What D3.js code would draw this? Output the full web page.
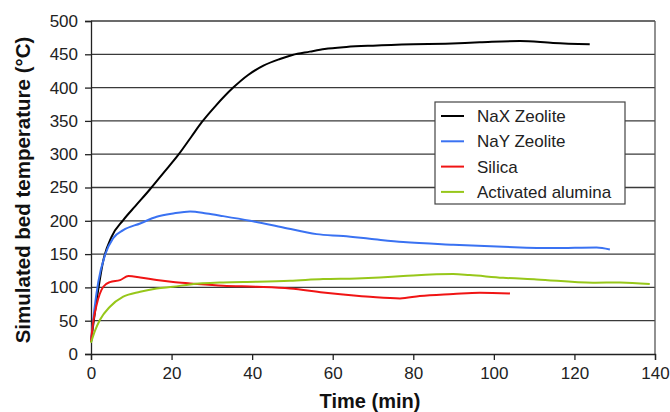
<!DOCTYPE html>
<html><head><meta charset="utf-8">
<script src="https://cdn.jsdelivr.net/npm/d3@7/dist/d3.min.js"></script>
<style>body{margin:0;background:#fff}svg{display:block}</style>
</head><body>
<svg id="c" width="670" height="412"></svg>
<script>
const seriesNames = ["NaX Zeolite", "NaY Zeolite", "Silica", "Activated alumina"];
const seriesColors = ["#000000", "#3a72f2", "#f01414", "#97c71a"];
const naxTime = [0, 1.5, 3.0, 5.1, 8, 11, 14.6, 18, 21.8, 25, 27.5, 31, 35.3, 39, 42.8, 46.9, 50, 54.3, 58, 63.4, 70, 80, 88, 96.5, 106.5, 114.7, 123.8];
const naxVal  = [18, 85, 139, 176, 201, 222, 247, 272, 300, 327, 348, 373, 400, 419, 433, 443, 449, 454, 458, 461, 463, 465, 466, 468, 470, 467, 465];
const nayTime = [0, 0.8, 1.8, 3.5, 5.5, 8, 12.2, 16.3, 20.4, 24.6, 28.7, 32.8, 39.5, 47.7, 56, 62.6, 69.2, 77.5, 89.9, 102.3, 114.7, 125.5, 128.8];
const nayVal  = [19, 65, 108, 149, 174, 186, 196, 206, 211, 214, 211, 207, 200, 190, 180, 177, 173, 168, 164, 161, 159, 160, 157];
const silTime = [0, 0.6, 1.4, 3.05, 4.7, 7.2, 9.3, 12.2, 16.3, 20.4, 24.6, 32.8, 41.1, 49.4, 57.6, 65.9, 70, 76.7, 81.6, 89.9, 96.5, 104];
const silVal  = [19, 50, 74, 101, 108, 111, 117, 115, 111, 108, 106, 102.5, 101, 98.5, 92.5, 87.5, 85.5, 83.5, 87, 90, 92, 91];
const aluTime = [0, 1, 2.2, 4.7, 8, 12.2, 16.3, 20.4, 24.6, 32.8, 41.1, 49.4, 57.6, 65.9, 71.7, 77.5, 89.9, 94, 102.3, 110.6, 124.6, 131.3, 138.7];
const aluVal  = [17, 35, 51, 71, 86, 93.5, 98.5, 101, 104.5, 107.5, 108.5, 110, 112.5, 113.5, 115, 117, 120, 118.5, 114.5, 112, 107, 107.5, 105];
const xTicks = [0, 20, 40, 60, 80, 100, 120, 140];
const yTicks = [0, 50, 100, 150, 200, 250, 300, 350, 400, 450, 500];
const xTitle = "Time (min)";
const yTitle = "Simulated bed temperature (°C)";

const seriesData = [
  naxTime.map((t,i)=>[t,naxVal[i]]),
  nayTime.map((t,i)=>[t,nayVal[i]]),
  silTime.map((t,i)=>[t,silVal[i]]),
  aluTime.map((t,i)=>[t,aluVal[i]])
];

const svg = d3.select("#c");
const L = 91, R = 655, T = 21, B = 354;
const x = d3.scaleLinear().domain([0,140]).range([L,R]);
const y = d3.scaleLinear().domain([0,500]).range([B,T]);
const font = "'Liberation Sans', Arial, sans-serif";

// gridlines
svg.append("g").selectAll("line").data(yTicks.filter(v=>v>0)).join("line")
  .attr("x1",L).attr("x2",R).attr("y1",d=>y(d)).attr("y2",d=>y(d))
  .attr("stroke","#3a3a3a").attr("stroke-width",1.3);
// right border
svg.append("line").attr("x1",R).attr("x2",R).attr("y1",T).attr("y2",B)
  .attr("stroke","#555").attr("stroke-width",1.3);

// axes
const yAxis = d3.axisLeft(y).tickValues(yTicks).tickSize(6).tickPadding(7);
const gy = svg.append("g").attr("transform",`translate(${L},0)`).call(yAxis);
const xAxis = d3.axisBottom(x).tickValues(xTicks).tickSize(6).tickPadding(7);
const gx = svg.append("g").attr("transform",`translate(0,${B})`).call(xAxis);
[gx,gy].forEach(g=>{
  g.select(".domain").attr("stroke","#222").attr("stroke-width",1.3);
  g.selectAll(".tick line").attr("stroke","#222").attr("stroke-width",1.3);
  g.selectAll(".tick text").attr("font-family",font).attr("font-size",17).attr("fill","#222");
});

// lines
const line = d3.line().x(d=>x(d[0])).y(d=>y(d[1])).curve(d3.curveMonotoneX);
svg.append("g").selectAll("path").data(seriesData).join("path")
  .attr("d",line).attr("fill","none")
  .attr("stroke",(d,i)=>seriesColors[i]).attr("stroke-width",2)
  .attr("stroke-linejoin","round");

// axis titles
svg.append("text").attr("x",(L+R)/2-3).attr("y",408).attr("text-anchor","middle")
  .attr("font-family",font).attr("font-weight","bold").attr("font-size",20).attr("fill","#111")
  .text(xTitle);
svg.append("text").attr("transform",`translate(30,190) rotate(-90)`).attr("text-anchor","middle")
  .attr("font-family",font).attr("font-weight","bold").attr("font-size",20.5).attr("fill","#111")
  .text(yTitle);

// legend
const lg = svg.append("g");
lg.append("rect").attr("x",435).attr("y",102).attr("width",190).attr("height",102)
  .attr("fill","#fff").attr("stroke","#444").attr("stroke-width",1.2);
const items = lg.selectAll("g.item").data(seriesNames).join("g")
  .attr("transform",(d,i)=>`translate(0,${116 + i*25.3})`);
items.append("line").attr("x1",441).attr("x2",464).attr("y1",0).attr("y2",0)
  .attr("stroke",(d,i)=>seriesColors[i]).attr("stroke-width",2);
items.append("text").attr("x",477).attr("y",6).attr("font-family",font)
  .attr("font-size",17).attr("fill","#222").text(d=>d);
</script>
</body></html>
